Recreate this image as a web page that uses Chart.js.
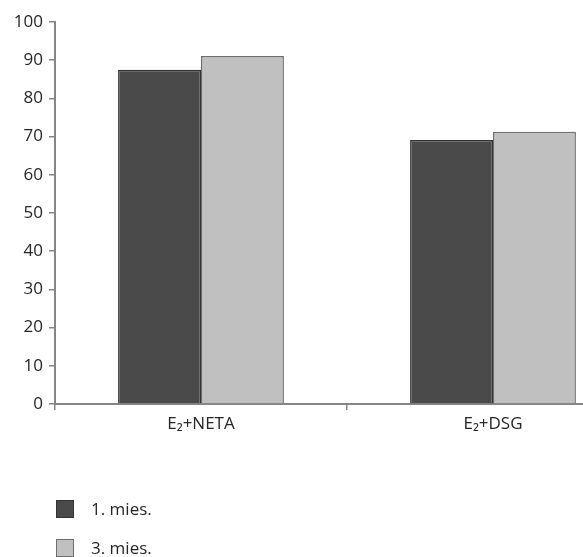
<!DOCTYPE html>
<html>
<head>
<meta charset="utf-8">
<script src="https://cdn.jsdelivr.net/npm/chart.js@4.4.1/dist/chart.umd.min.js"></script>
<style>
	html, body { margin: 0; padding: 0; background: #fff; overflow: hidden; }
	#wrap { width: 583px; height: 557px; overflow: hidden; }
</style>
</head>
<body>
<div id="wrap"><canvas id="c" width="660" height="557"></canvas></div>
<script>
const categories = ['E\u2082+NETA', 'E\u2082+DSG'];
const seriesNames = ['1. mies.', '3. mies.'];
const month1 = [87.5, 69.1];
const month3 = [91.1, 71.3];
const yTicks = { min: 0, max: 100, step: 10 };

const FONT = "'Open Sans', sans-serif";
const AXIS = '#858585';

// legend drawn as a vertical list below the plot
const listLegend = {
	id: 'listLegend',
	afterDraw(chart) {
		const ctx = chart.ctx;
		ctx.save();
		chart.data.datasets.forEach((ds, i) => {
			const top = 500 + i * 39;
			ctx.fillStyle = ds.backgroundColor;
			ctx.fillRect(56, top, 18, 18);
			ctx.strokeStyle = ds.borderColor;
			ctx.lineWidth = 1;
			ctx.strokeRect(56.5, top + 0.5, 17, 17);
			ctx.fillStyle = '#262626';
			ctx.font = '17px ' + FONT;
			ctx.textBaseline = 'middle';
			ctx.fillText(ds.label, 91, top + 10);
		});
		ctx.restore();
	}
};

new Chart(document.getElementById('c'), {
	type: 'bar',
	data: {
		labels: categories,
		datasets: [
			{ label: seriesNames[0], data: month1, backgroundColor: '#4a4a4a', borderColor: '#333333', borderWidth: 1.5 },
			{ label: seriesNames[1], data: month3, backgroundColor: '#c0c0c0', borderColor: '#6e6e6e', borderWidth: 1.5 }
		]
	},
	options: {
		responsive: false,
		animation: false,
		layout: { padding: { top: 22, right: 21, left: 0, bottom: 0 } },
		plugins: { legend: { display: false }, tooltip: { enabled: false } },
		datasets: { bar: { categoryPercentage: 0.568, barPercentage: 1 } },
		scales: {
			x: {
				afterFit: s => { s.height = 153; },
				grid: { display: true, drawOnChartArea: false, tickLength: 6, color: AXIS, lineWidth: 1.5, offset: true },
				border: { color: AXIS, width: 2 },
				ticks: { color: '#262626', font: { family: FONT, size: 17 }, padding: 4 }
			},
			y: {
				min: yTicks.min, max: yTicks.max,
				afterFit: s => { s.width = 55; },
				grid: { display: true, drawOnChartArea: false, tickLength: 6, color: AXIS, lineWidth: 1.5 },
				border: { color: AXIS, width: 2 },
				ticks: { stepSize: yTicks.step, color: '#262626', font: { family: FONT, size: 17 }, padding: 6 }
			}
		}
	},
	plugins: [listLegend]
});
</script>
</body>
</html>
